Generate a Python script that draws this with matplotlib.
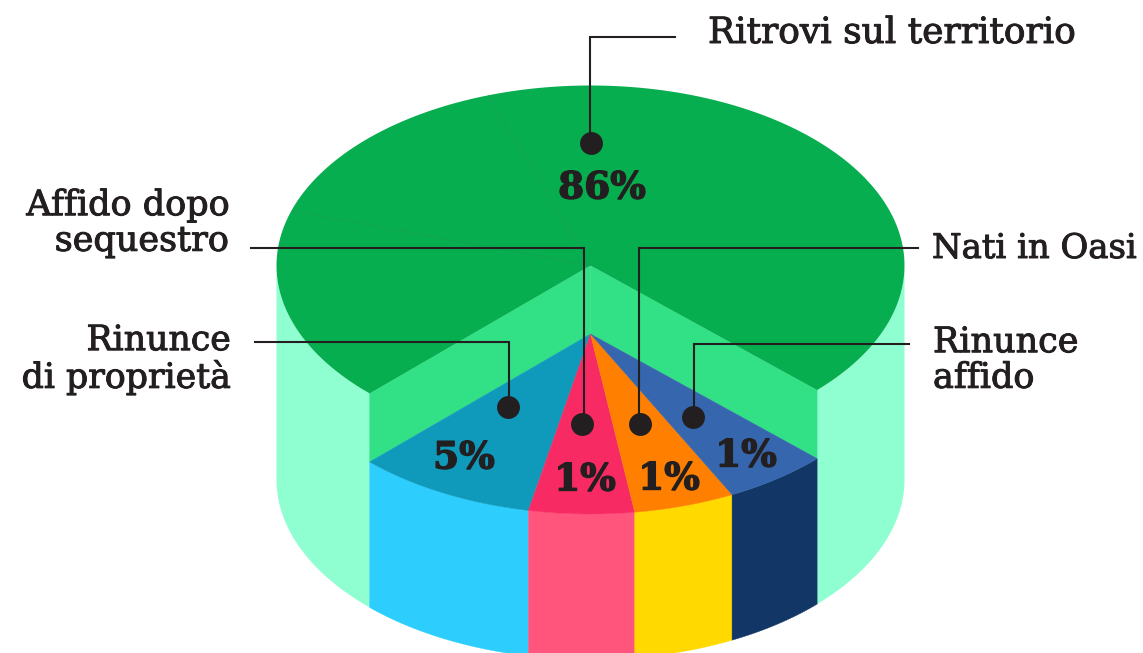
import matplotlib
matplotlib.use('Agg')
import matplotlib.pyplot as plt
import matplotlib.patheffects as pe
import numpy as np

categories = ['Ritrovi sul territorio', 'Rinunce\ndi proprietà', 'Affido dopo\nsequestro', 'Nati in Oasi', 'Rinunce\naffido']
percents = [86, 5, 1, 1, 1]
# angle drawn for each front slice, the picture is not to scale
front_spans = [33.3, 19.5, 18.7, 19.4]

top_colors = ['#0F9ABC', '#F72A63', '#FF7F00', '#3566AE']
side_colors = ['#2DCEFE', '#FF547C', '#FFD900', '#123767']
green = '#07AE4F'
wall = '#32E085'
mint = '#8FFFD2'
ink = '#231F20'

# layout, in pixels of the 1143x653 picture
cx, rx, ry = 590.5, 314, 180
top_y, front_y, bottom_y = 265.5, 334, 479.5
start_angle = 134.7
seam_angles = [251, 197.7]

label_pos = [(708, 33, 'left'), (231, 359, 'right'), (229, 223, 'right'), (932, 249, 'left'), (933, 360, 'left')]
label_sizes = [25.9, 25, 25.2, 24.4, 25.2]
pct_pos = [(602, 188), (464, 458), (585, 480), (669, 479), (746, 456)]
dots = [(591, 143), (508, 407), (582, 424), (640, 424), (693, 417)]
leaders = [[(675, 37), (590, 37), (590, 143)],
           [(255, 342), (509, 342), (509, 407)],
           [(251, 248), (584, 248), (584, 424)],
           [(918, 248), (639, 248), (639, 424)],
           [(909, 344), (694, 344), (694, 417)]]


def arc(a0, a1, y0):
    t = np.radians(np.linspace(a0, a1, 200))
    return cx + rx * np.cos(t), y0 + ry * np.sin(t)


fig = plt.figure(figsize=(11.43, 6.53), dpi=100)
ax = fig.add_axes([0, 0, 1, 1])
ax.set_xlim(0, 1143)
ax.set_ylim(653, 0)
ax.axis('off')

edges = start_angle - np.cumsum([0] + front_spans)
end_angle = edges[-1]

# outer side of the big slice, left and right of the cut
for a0, a1 in [(start_angle, 180), (0, end_angle)]:
    x1, y1 = arc(a0, a1, top_y)
    x2, y2 = arc(a1, a0, bottom_y)
    ax.fill(np.r_[x1, x2], np.r_[y1, y2], color=mint, lw=0)

# walls of the cut
for a in [start_angle, end_angle]:
    xt, yt = arc(a, a, top_y)
    xf, yf = arc(a, a, front_y)
    ax.fill([cx, xt[0], xf[0], cx], [top_y, yt[0], yf[0], front_y], color=wall, lw=0.3, ec=wall)

# top of the big slice
x1, y1 = arc(start_angle, end_angle + 360, top_y)
ax.fill(np.r_[cx, x1], np.r_[top_y, y1], color=green, lw=0)
for a in seam_angles:
    xs, ys = arc(a, a, top_y)
    ax.plot([cx, xs[0]], [top_y, ys[0]], color='#1B9B58', lw=0.6, ls=(0, (4, 2)))

# front slices
for i in range(len(front_spans)):
    x1, y1 = arc(edges[i], edges[i + 1], front_y)
    x2, y2 = arc(edges[i + 1], edges[i], bottom_y)
    ax.fill(np.r_[x1, x2], np.r_[y1, y2], color=side_colors[i], lw=0.3, ec=side_colors[i])
    ax.fill(np.r_[cx, x1], np.r_[front_y, y1], color=top_colors[i], lw=0.3, ec=top_colors[i])

for pts in leaders:
    xs, ys = zip(*pts)
    ax.plot(xs, ys, color=ink, lw=1.5, solid_joinstyle='miter')
ax.plot(*zip(*dots), 'o', color=ink, ms=16.5, mew=0, ls='none')

# the original face is a heavier slab serif, a thin stroke brings the weight closer
for name, (x, y, ha), size in zip(categories, label_pos, label_sizes):
    ax.text(x, y, name, ha=ha, va='center', family='DejaVu Serif', fontsize=size,
            color=ink, linespacing=1.06,
            path_effects=[pe.withStroke(linewidth=0.7, foreground=ink)])
for p, (x, y) in zip(percents, pct_pos):
    ax.text(x, y, f'{p}%', ha='center', va='center', family='DejaVu Serif',
            weight='bold', fontsize=27, color=ink,
            path_effects=[pe.withStroke(linewidth=1.0, foreground=ink)])

fig.savefig('out.png', dpi=100)
